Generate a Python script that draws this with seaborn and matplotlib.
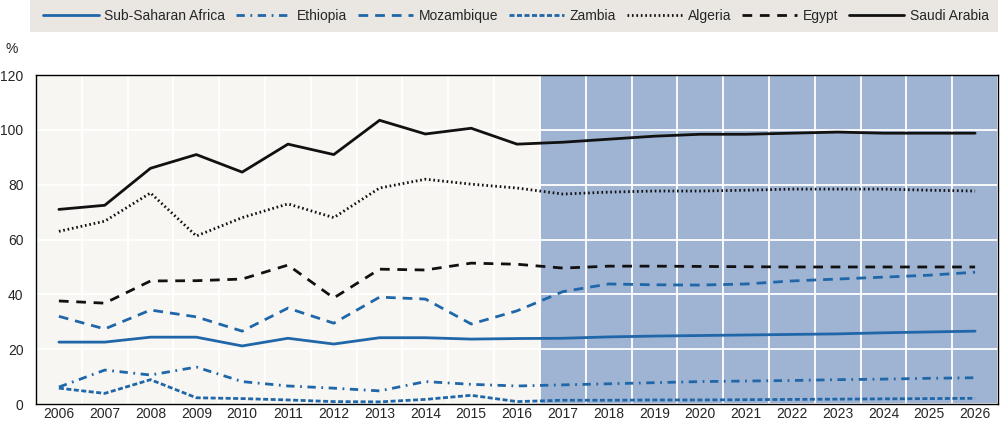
import numpy as np
import pandas as pd
import seaborn as sns
import matplotlib.pyplot as plt
from matplotlib.patches import Rectangle

# Dados (percentagem)
anos = list(range(2006, 2027))
sub_saharan = [22.6, 22.6, 24.4, 24.4, 21.2, 24.0, 21.9, 24.2, 24.2, 23.7, 23.9,
               24.0, 24.5, 24.8, 25.0, 25.2, 25.4, 25.6, 26.0, 26.3, 26.6]
ethiopia = [6.2, 12.4, 10.6, 13.5, 8.2, 6.6, 5.8, 4.8, 8.2, 7.2, 6.6,
            7.0, 7.4, 7.8, 8.2, 8.4, 8.6, 8.9, 9.1, 9.4, 9.6]
mozambique = [32.0, 27.4, 34.3, 31.8, 26.6, 35.0, 29.5, 39.0, 38.3, 29.2, 34.0,
              41.0, 43.8, 43.5, 43.4, 43.8, 44.9, 45.6, 46.3, 47.0, 48.1]
zambia = [5.8, 3.9, 8.9, 2.3, 2.0, 1.5, 0.9, 0.8, 1.7, 3.2, 0.9,
          1.4, 1.4, 1.5, 1.5, 1.6, 1.7, 1.8, 1.9, 2.0, 2.1]
algeria = [63.0, 66.7, 77.0, 61.3, 68.0, 73.0, 68.0, 78.8, 82.0, 80.2, 78.8,
           76.6, 77.3, 77.7, 77.7, 78.0, 78.4, 78.4, 78.4, 78.0, 77.7]
egypt = [37.6, 36.8, 44.9, 45.0, 45.6, 50.7, 38.7, 49.2, 48.9, 51.4, 51.0,
         49.6, 50.3, 50.3, 50.2, 50.1, 50.0, 50.0, 50.0, 50.0, 50.0]
saudi = [71.0, 72.5, 86.0, 91.0, 84.6, 94.8, 91.0, 103.5, 98.5, 100.6, 94.8,
         95.5, 96.6, 97.7, 98.4, 98.4, 98.8, 99.2, 98.8, 98.8, 98.8]

azul = '#1f67a8'
preto = '#111111'
series = [
    ('Sub-Saharan Africa', sub_saharan, azul, '-'),
    ('Ethiopia', ethiopia, azul, (0, (6, 4, 1.3, 4))),
    ('Mozambique', mozambique, azul, (0, (7, 5))),
    ('Zambia', zambia, azul, (0, (3.6, 1.8))),
    ('Algeria', algeria, preto, (0, (1.2, 2.0))),
    ('Egypt', egypt, preto, (0, (7, 5.5))),
    ('Saudi Arabia', saudi, preto, '-'),
]

sns.set_style('white')
plt.rcParams['font.family'] = ['Liberation Sans', 'DejaVu Sans']
plt.rcParams['lines.scale_dashes'] = False

fig = plt.figure(figsize=(10, 4.24), dpi=100)
ax = fig.add_axes([0.036, 0.047, 0.962, 0.776])

x = np.arange(len(anos))
for nome, valores, cor, estilo in series:
    sns.lineplot(x=x, y=valores, color=cor, linestyle=estilo, linewidth=2.0,
                 label=nome, ax=ax, zorder=3)

# fundo e regiao de projecao
ax.set_facecolor('#f8f6f3')
ax.axvspan(10.5, 20.5, color='#9fb4d3', zorder=0.2, lw=0)
ax.set_axisbelow(True)

ax.set_xlim(-0.5, len(anos) - 0.5)
ax.set_ylim(0, 120)
ax.set_yticks(range(0, 121, 20))
ax.set_xticks(np.arange(-0.5, len(anos), 1.0))
ax.set_xticklabels([])
ax.set_xticks(x, minor=True)
ax.set_xticklabels([str(a) for a in anos], minor=True)
ax.tick_params(axis='x', which='major', direction='in', length=5, width=1, color='black')
ax.tick_params(axis='x', which='minor', length=0, pad=2, labelsize=10)
ax.tick_params(axis='y', direction='in', length=4, width=1, pad=9, labelsize=10)
ax.grid(True, which='major', color='white', linewidth=1.3)
for s in ax.spines.values():
    s.set_visible(True)
    s.set_color('black')
    s.set_linewidth(1.0)

fig.text(0.006, 0.875, '%', fontsize=10)

# legenda no topo com fundo cinza
fig.patches.append(Rectangle((0.03, 0.925), 0.968, 0.075, transform=fig.transFigure,
                             facecolor='#eae7e3', edgecolor='none', zorder=0))
ax.get_legend().remove()
h, l = ax.get_legend_handles_labels()
fig.legend(h, l, loc='center', bbox_to_anchor=(0.516, 0.962), ncol=7, frameon=False,
           fontsize=10, handlelength=4.0, handletextpad=0.4, columnspacing=0.75,
           borderaxespad=0, borderpad=0)

fig.savefig('out.png', dpi=100)
